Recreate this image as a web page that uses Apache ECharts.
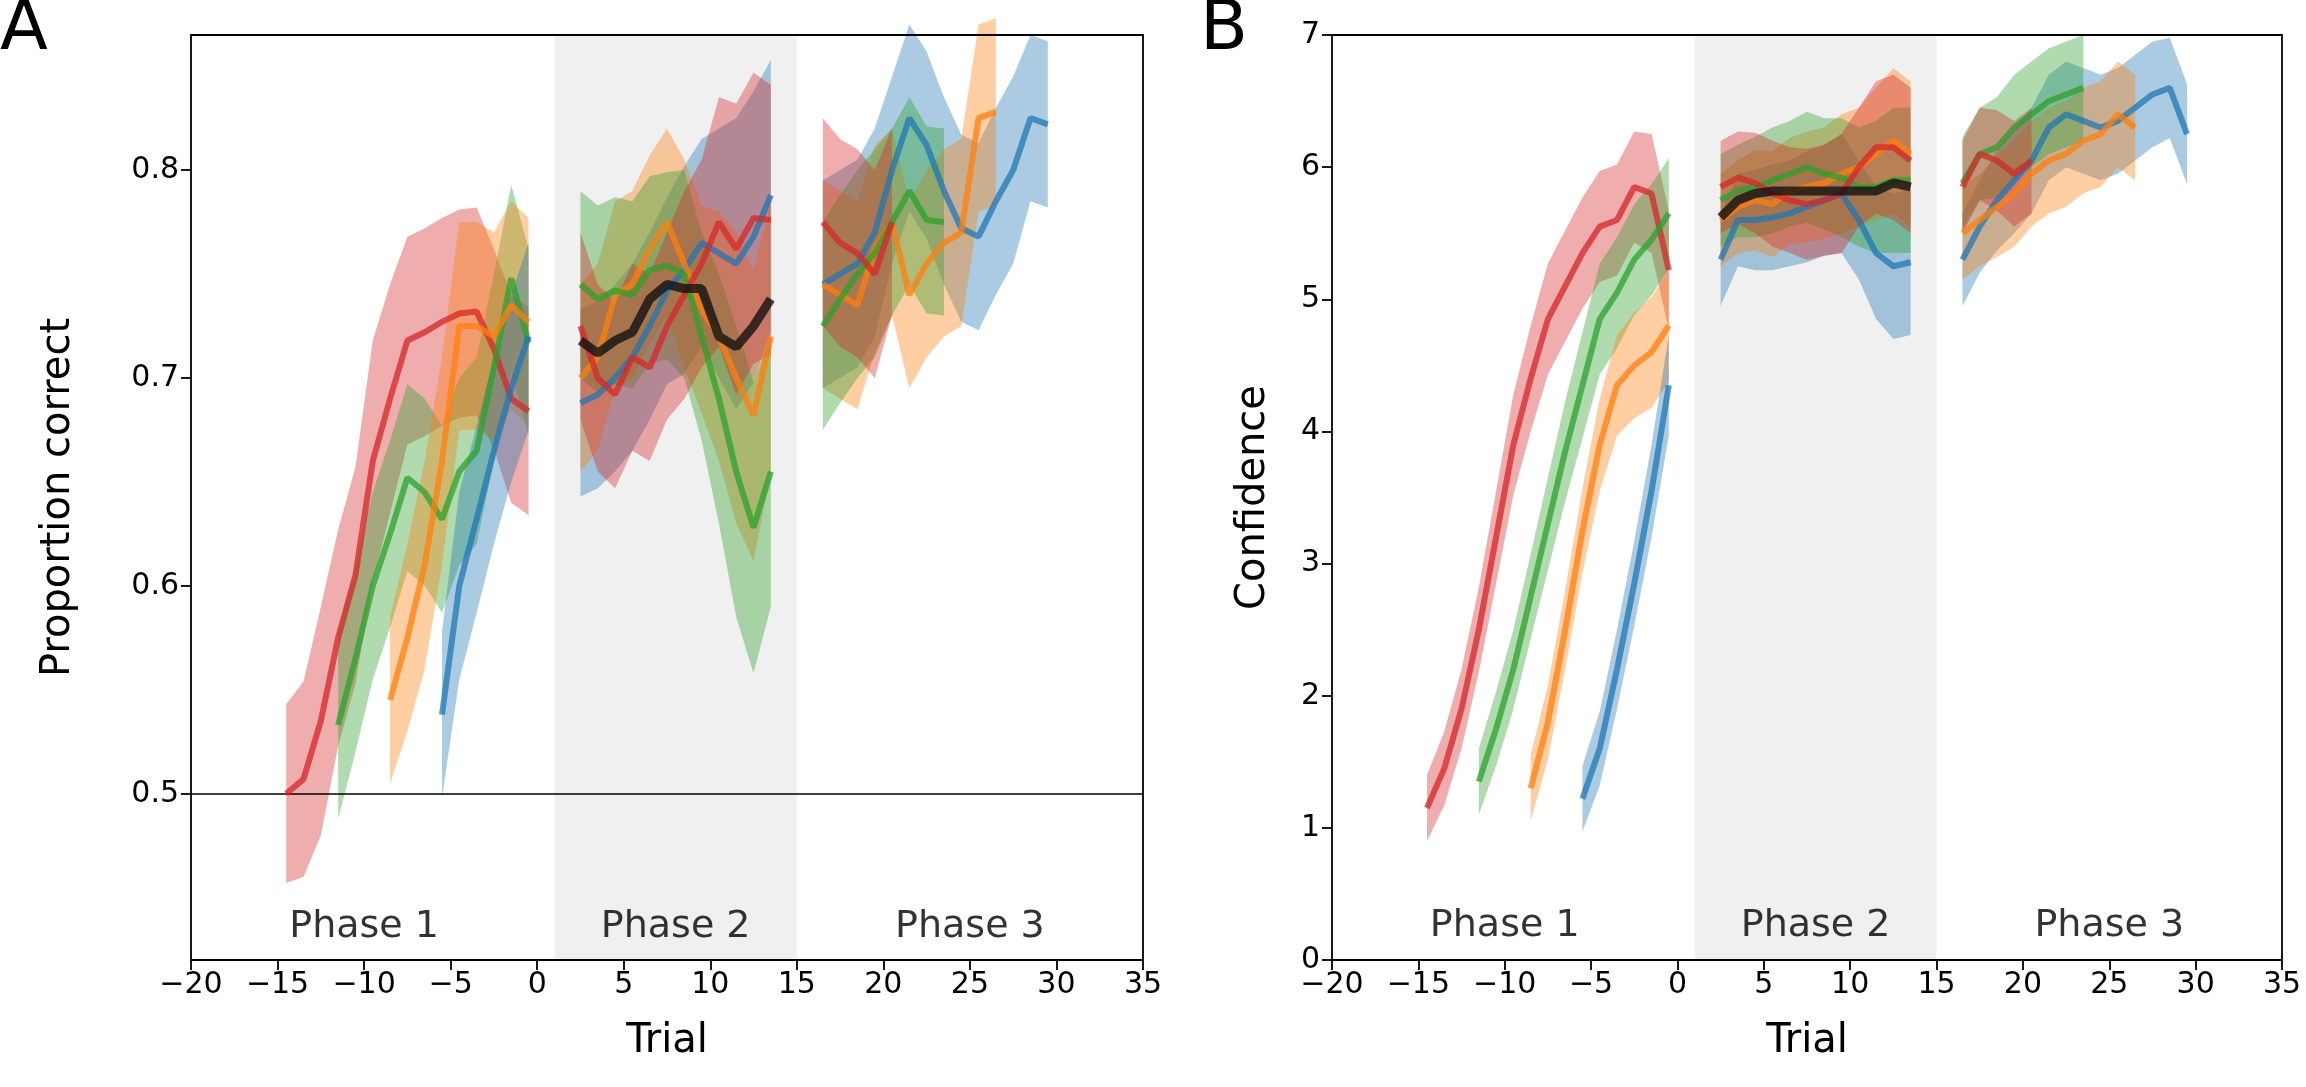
<!DOCTYPE html>
<html>
<head>
<meta charset="utf-8">
<script src="https://cdn.jsdelivr.net/npm/echarts@6/dist/echarts.min.js"></script>
<style>html,body{margin:0;background:#fff}#c{width:2306px;height:1087px}</style>
</head>
<body>
<div id="c"></div>
<script>
// colours (matplotlib tab10)
var C = {blue: '#1f77b4', orange: '#ff7f0e', green: '#2ca02c', red: '#d62728', black: '#111'};

// x positions of trials
var xRed1 = [-14.5,-13.5,-12.5,-11.5,-10.5,-9.5,-8.5,-7.5,-6.5,-5.5,-4.5,-3.5,-2.5,-1.5,-0.5];
var xGreen1 = xRed1.slice(3);
var xOrange1 = xRed1.slice(6);
var xBlue1 = xRed1.slice(9);
var xP2 = [2.5,3.5,4.5,5.5,6.5,7.5,8.5,9.5,10.5,11.5,12.5,13.5];
var xBlue3 = [16.5,17.5,18.5,19.5,20.5,21.5,22.5,23.5,24.5,25.5,26.5,27.5,28.5,29.5];
var xRed3 = xBlue3.slice(0, 5);
var xGreen3 = xBlue3.slice(0, 8);
var xOrange3 = xBlue3.slice(0, 11);

// panel A: proportion correct (mean, band half-width)
var aRed1 = [0.50,0.507,0.535,0.575,0.605,0.66,0.69,0.718,0.722,0.727,0.731,0.732,0.714,0.69,0.684];
var aRed1W = [0.043,0.047,0.055,0.052,0.052,0.058,0.055,0.05,0.05,0.05,0.05,0.05,0.048,0.05,0.05];
var aGreen1 = [0.533,0.565,0.60,0.625,0.652,0.645,0.632,0.655,0.665,0.705,0.748,0.717];
var aGreen1W = [0.045,0.045,0.045,0.045,0.045,0.045,0.045,0.045,0.045,0.045,0.045,0.045];
var aOrange1 = [0.545,0.575,0.61,0.66,0.725,0.725,0.72,0.735,0.727];
var aOrange1W = [0.04,0.045,0.05,0.05,0.05,0.05,0.05,0.05,0.05];
var aBlue1 = [0.538,0.60,0.632,0.665,0.695,0.72];
var aBlue1W = [0.04,0.045,0.045,0.045,0.045,0.045];

var aBlack2 = [0.718,0.712,0.718,0.722,0.738,0.745,0.743,0.743,0.72,0.715,0.725,0.738];
var aRed2 = [0.725,0.70,0.692,0.71,0.705,0.725,0.74,0.755,0.775,0.762,0.777,0.776];
var aGreen2 = [0.745,0.738,0.742,0.74,0.752,0.754,0.75,0.72,0.69,0.655,0.628,0.655];
var aOrange2 = [0.70,0.71,0.74,0.745,0.762,0.775,0.755,0.733,0.72,0.70,0.682,0.72];
var aBlue2 = [0.688,0.692,0.70,0.71,0.725,0.742,0.752,0.765,0.76,0.755,0.768,0.788];
var aP2W = [0.045,0.045,0.045,0.045,0.045,0.045,0.05,0.05,0.06,0.07,0.07,0.065];

var aRed3 = [0.775,0.765,0.76,0.75,0.775];
var aGreen3 = [0.725,0.738,0.75,0.76,0.775,0.79,0.776,0.775];
var aOrange3 = [0.745,0.74,0.735,0.762,0.775,0.74,0.755,0.765,0.77,0.825,0.828];
var aBlue3 = [0.745,0.75,0.755,0.77,0.80,0.825,0.812,0.79,0.772,0.768,0.785,0.80,0.825,0.822];
var aP3W = [0.05,0.05,0.05,0.05,0.045,0.045,0.045,0.045,0.045,0.045,0.045,0.045,0.04,0.04];

// panel B: confidence
var bRed1 = [1.15,1.45,1.9,2.5,3.2,3.9,4.4,4.85,5.1,5.35,5.55,5.6,5.85,5.8,5.22];
var bGreen1 = [1.35,1.75,2.2,2.75,3.3,3.85,4.35,4.85,5.05,5.3,5.45,5.65];
var bOrange1 = [1.3,1.8,2.5,3.25,3.9,4.35,4.5,4.6,4.8];
var bBlue1 = [1.22,1.6,2.2,2.85,3.55,4.35];
var bP1W = [0.25,0.28,0.3,0.32,0.35,0.38,0.4,0.42,0.42,0.42,0.42,0.42,0.42,0.45,0.45];

var bBlack2 = [5.62,5.75,5.8,5.82,5.82,5.82,5.82,5.82,5.82,5.82,5.88,5.85];
var bRed2 = [5.85,5.92,5.88,5.8,5.75,5.72,5.75,5.8,6.0,6.15,6.15,6.05];
var bGreen2 = [5.75,5.82,5.85,5.9,5.95,6.0,5.95,5.92,5.85,5.85,5.9,5.9];
var bOrange2 = [5.6,5.7,5.75,5.72,5.82,5.85,5.88,5.95,6.0,6.1,6.2,6.1];
var bBlue2 = [5.3,5.6,5.6,5.62,5.65,5.7,5.75,5.8,5.6,5.35,5.25,5.28];
var bP2W = [0.35,0.35,0.38,0.4,0.4,0.42,0.42,0.45,0.45,0.5,0.55,0.55];

var bRed3 = [5.85,6.1,6.05,5.95,6.05];
var bGreen3 = [5.88,6.1,6.15,6.3,6.4,6.5,6.55,6.6];
var bOrange3 = [5.5,5.6,5.7,5.8,5.95,6.05,6.1,6.2,6.25,6.4,6.3];
var bBlue3 = [5.3,5.55,5.75,5.9,6.05,6.3,6.4,6.35,6.3,6.35,6.45,6.55,6.6,6.25];
var bP3W = [0.35,0.35,0.38,0.4,0.4,0.4,0.4,0.4,0.4,0.4,0.4,0.4,0.38,0.38];

var phaseLabels = ['Phase 1', 'Phase 2', 'Phase 3'];
var phaseX = [-10, 8, 25];

var series = [];
var ordered = [];
var labels = [];

function add(idx, xs, ys, ws, color, isBlack) {
  var lo = [], hi = [];
  for (var i = 0; i < xs.length; i++) { lo.push(ys[i] - ws[i]); hi.push(ys[i] + ws[i]); }
  if (!isBlack) {
    series.push({
      type: 'custom', xAxisIndex: idx, yAxisIndex: idx, silent: true, z: 2,
      data: [0],
      renderItem: function (params, api) {
        var pts = [];
        for (var i = 0; i < xs.length; i++) pts.push(api.coord([xs[i], hi[i]]));
        for (var j = xs.length - 1; j >= 0; j--) pts.push(api.coord([xs[j], lo[j]]));
        return {type: 'polygon', shape: {points: pts}, style: {fill: color, opacity: 0.38}};
      }
    });
  }
  var d = xs.map(function (x, i) { return [x, ys[i]]; });
  ordered.push({
    type: 'line', xAxisIndex: idx, yAxisIndex: idx, data: d, showSymbol: false, z: 5,
    lineStyle: {color: color, width: isBlack ? 9 : 6, opacity: isBlack ? 0.8 : 0.75}
  });
}

function panel(idx, d) {
  add(idx, xRed1, d.r1, d.w1r, C.red);
  add(idx, xGreen1, d.g1, d.w1g, C.green);
  add(idx, xOrange1, d.o1, d.w1o, C.orange);
  add(idx, xBlue1, d.b1, d.w1b, C.blue);
  add(idx, xP2, d.b2, d.w2, C.blue);
  add(idx, xP2, d.o2, d.w2, C.orange);
  add(idx, xP2, d.g2, d.w2, C.green);
  add(idx, xP2, d.r2, d.w2, C.red);
  add(idx, xP2, d.k2, d.w2, C.black, true);
  add(idx, xBlue3, d.b3, d.w3, C.blue);
  add(idx, xOrange3, d.o3, d.w3, C.orange);
  add(idx, xGreen3, d.g3, d.w3, C.green);
  add(idx, xRed3, d.r3, d.w3, C.red);
  // phase shading
  series.unshift({
    type: 'line', xAxisIndex: idx, yAxisIndex: idx, data: [], z: 1,
    markArea: {silent: true, itemStyle: {color: '#f0f0f0'}, data: [[{xAxis: 1}, {xAxis: 15}]]},
    markLine: d.line ? {silent: true, symbol: 'none', label: {show: false}, lineStyle: {color: '#000', width: 1.5, type: 'solid'}, data: [{yAxis: d.line}]} : undefined
  });
  labels.push({
    type: 'scatter', xAxisIndex: idx, yAxisIndex: idx, symbolSize: 1, z: 10, silent: true,
    itemStyle: {color: 'rgba(0,0,0,0)'},
    data: phaseX.map(function (x, i) { return {value: [x, d.labelY], name: phaseLabels[i]}; }),
    label: {show: true, formatter: '{b}', color: '#000', fontSize: 38, fontFamily: 'DejaVu Sans', position: 'inside'}
  });
}

panel(0, {r1: aRed1, g1: aGreen1, o1: aOrange1, b1: aBlue1, w1r: aRed1W, w1g: aGreen1W, w1o: aOrange1W, w1b: aBlue1W,
  r2: aRed2, g2: aGreen2, o2: aOrange2, b2: aBlue2, k2: aBlack2, w2: aP2W,
  r3: aRed3, g3: aGreen3, o3: aOrange3, b3: aBlue3, w3: aP3W, labelY: 0.436, line: 0.5});
panel(1, {r1: bRed1, g1: bGreen1, o1: bOrange1, b1: bBlue1, w1r: bP1W, w1g: bP1W, w1o: bP1W, w1b: bP1W,
  r2: bRed2, g2: bGreen2, o2: bOrange2, b2: bBlue2, k2: bBlack2, w2: bP2W,
  r3: bRed3, g3: bGreen3, o3: bOrange3, b3: bBlue3, w3: bP3W, labelY: 0.26});

var font = 'DejaVu Sans';
function xAx(i) {
  return {gridIndex: i, type: 'value', min: -20, max: 35, interval: 5, name: 'Trial', nameLocation: 'middle', nameGap: 62,
    nameTextStyle: {fontSize: 40, fontFamily: font, color: '#000'},
    axisLine: {show: false, onZero: false}, splitLine: {show: false},
    axisTick: {show: true, length: 10, lineStyle: {color: '#000', width: 1.8}},
    axisLabel: {fontSize: 30, fontFamily: font, color: '#000', margin: 10, formatter: function (v) { return String(v).replace('-', '\u2212'); }}};
}
var myChart = echarts.init(document.getElementById('c'));
myChart.setOption({
  backgroundColor: '#fff',
  animation: false,
  grid: [
    {left: 191, right: 1163, top: 35, bottom: 127, show: true, borderColor: '#000', borderWidth: 1.8, backgroundColor: 'transparent', z: 20},
    {left: 1332, right: 24, top: 35, bottom: 127, show: true, borderColor: '#000', borderWidth: 1.8, backgroundColor: 'transparent', z: 20}
  ],
  xAxis: [xAx(0), xAx(1)],
  yAxis: [
    {gridIndex: 0, type: 'value', min: 0.42, max: 0.865, name: 'Proportion correct', nameLocation: 'middle', nameGap: 112,
      nameTextStyle: {fontSize: 40, fontFamily: font, color: '#000'},
      axisLine: {show: false, onZero: false}, splitLine: {show: false},
      axisTick: {show: true, length: 10, customValues: [0.5, 0.6, 0.7, 0.8], lineStyle: {color: '#000', width: 1.8}},
      axisLabel: {fontSize: 30, fontFamily: font, color: '#000', margin: 12, customValues: [0.5, 0.6, 0.7, 0.8], formatter: function (v) { return v.toFixed(1); }}},
    {gridIndex: 1, type: 'value', min: 0, max: 7, interval: 1, name: 'Confidence', nameLocation: 'middle', nameGap: 58,
      nameTextStyle: {fontSize: 40, fontFamily: font, color: '#000'},
      axisLine: {show: false, onZero: false}, splitLine: {show: false},
      axisTick: {show: true, length: 10, lineStyle: {color: '#000', width: 1.8}},
      axisLabel: {fontSize: 30, fontFamily: font, color: '#000', margin: 12}}
  ],
  graphic: [
    {type: 'text', left: 0, top: -4, style: {text: 'A', fontSize: 70, fontFamily: font, fill: '#000'}},
    {type: 'text', left: 1200, top: -4, style: {text: 'B', fontSize: 70, fontFamily: font, fill: '#000'}}
  ],
  series: series.concat(ordered, labels)
});
</script>
</body>
</html>
